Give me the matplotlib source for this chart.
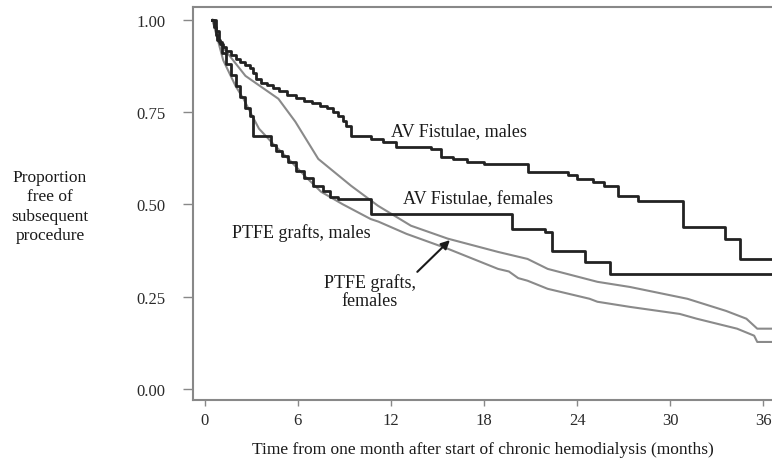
import matplotlib
matplotlib.use("Agg")
import matplotlib.pyplot as plt

plt.rcParams['font.family'] = ['Liberation Serif', 'DejaVu Serif']

# ---- data (months, proportion free of subsequent procedure) ----
av_m_t = [0.5, 0.6, 0.7, 0.8, 1.0, 1.2, 1.4, 1.7, 2.0, 2.3, 2.6, 2.9, 3.1, 3.3, 3.6, 4.0,
          4.4, 4.8, 5.3, 5.9, 6.4, 6.9, 7.4, 7.9, 8.3, 8.6, 8.9, 9.1, 9.4, 10.7, 11.5, 12.3,
          14.6, 15.2, 16.0, 16.9, 18.0, 20.8, 23.4, 24.0, 25.0, 25.7, 26.6, 27.9, 30.8,
          33.5, 34.5, 36.5]
av_m_v = [1.0, 0.98, 0.96, 0.945, 0.935, 0.925, 0.915, 0.905, 0.895, 0.885, 0.878, 0.87,
          0.855, 0.84, 0.83, 0.822, 0.815, 0.806, 0.797, 0.787, 0.78, 0.775, 0.767, 0.76,
          0.75, 0.74, 0.725, 0.713, 0.686, 0.678, 0.668, 0.656, 0.650, 0.629, 0.622, 0.615,
          0.61, 0.588, 0.58, 0.569, 0.56, 0.55, 0.523, 0.51, 0.439, 0.406, 0.352, 0.352]

av_f_t = [0.5, 0.7, 0.9, 1.1, 1.4, 1.7, 2.0, 2.3, 2.6, 2.9, 3.1, 4.3, 4.6, 5.0, 5.4, 5.9,
          6.4, 7.0, 7.6, 8.1, 8.6, 10.7, 19.8, 21.9, 22.4, 24.5, 26.1, 36.5]
av_f_v = [1.0, 0.97, 0.94, 0.91, 0.88, 0.85, 0.82, 0.79, 0.76, 0.74, 0.686, 0.66, 0.645,
          0.63, 0.615, 0.59, 0.57, 0.55, 0.535, 0.52, 0.515, 0.474, 0.434, 0.425, 0.374,
          0.344, 0.312, 0.312]

ptfe_m_t = [0.5, 1.2, 2.0, 2.5, 3.0, 3.5, 4.5, 5.4, 6.5, 7.5, 8.9, 10.7, 11.2, 13.0, 15.7,
            18.9, 19.6, 20.2, 20.8, 22.1, 24.8, 25.3, 27.4, 30.6, 31.7, 34.3, 35.4, 35.6, 36.5]
ptfe_m_v = [1.0, 0.89, 0.82, 0.786, 0.745, 0.705, 0.66, 0.623, 0.575, 0.534, 0.50, 0.46,
            0.453, 0.42, 0.379, 0.325, 0.318, 0.300, 0.293, 0.271, 0.244, 0.236, 0.222,
            0.203, 0.190, 0.163, 0.144, 0.127, 0.127]

ptfe_f_t = [0.5, 1.09, 2.63, 4.75, 5.84, 7.32, 9.44, 11.17, 13.29, 15.66, 18.9, 20.8, 22.1,
            25.3, 27.4, 31.1, 33.6, 34.9, 35.6, 36.5]
ptfe_f_v = [1.0, 0.93, 0.848, 0.786, 0.724, 0.623, 0.550, 0.496, 0.442, 0.407, 0.371,
            0.352, 0.325, 0.290, 0.276, 0.244, 0.211, 0.190, 0.163, 0.163]

x_ticks = [0, 6, 12, 18, 24, 30, 36]
y_ticks = [0.0, 0.25, 0.50, 0.75, 1.00]
y_tick_labels = ["0.00", "0.25", "0.50", "0.75", "1.00"]

fig = plt.figure(figsize=(7.72, 4.64), dpi=100)
ax = fig.add_axes([0.25, 0.136, 0.75, 0.847])

gray = '#8a8a8a'
dark = '#222222'
ax.plot(ptfe_f_t, ptfe_f_v, color=gray, lw=1.5)
ax.plot(ptfe_m_t, ptfe_m_v, color=gray, lw=1.5)
ax.plot(av_f_t, av_f_v, color=dark, lw=2.0, drawstyle='steps-post')
ax.plot(av_m_t, av_m_v, color=dark, lw=2.0, drawstyle='steps-post')

ax.set_xlim(-0.75, 36.55)
ax.set_ylim(-0.030, 1.035)
ax.set_xticks(x_ticks)
ax.set_yticks(y_ticks)
ax.set_yticklabels(y_tick_labels)

for s in ['left', 'bottom', 'top']:
    ax.spines[s].set_color('#888888')
    ax.spines[s].set_linewidth(1.5)
ax.spines['right'].set_visible(False)
ax.tick_params(axis='y', length=7, width=1, color='#888888', pad=13, labelsize=12, labelcolor='#2a2a2a')
ax.tick_params(axis='x', length=4.5, width=1, color='#888888', pad=4, labelsize=12, labelcolor='#2a2a2a')

tc = '#1a1a1a'
fs = 13
ax.text(12.0, 0.70, "AV Fistulae, males", fontsize=fs, color=tc, ha='left', va='center')
ax.text(12.8, 0.515, "AV Fistulae, females", fontsize=fs, color=tc, ha='left', va='center')
ax.text(1.75, 0.425, "PTFE grafts, males", fontsize=fs, color=tc, ha='left', va='center')
ax.text(10.65, 0.265, "PTFE grafts,\nfemales", fontsize=fs, color=tc, ha='center', va='center',
        linespacing=1.05)
ax.annotate("", xy=(15.8, 0.403), xytext=(13.7, 0.317),
            arrowprops=dict(arrowstyle='-|>', color=tc, lw=1.5, shrinkA=0, shrinkB=0,
                            mutation_scale=13))

fig.text(50 / 772, 1 - 207 / 464, "Proportion\nfree of\nsubsequent\nprocedure", fontsize=12.5,
         color=tc, ha='center', va='center', linespacing=1.3)
fig.text(483 / 772, 1 - 450 / 464,
         "Time from one month after start of chronic hemodialysis (months)",
         fontsize=12.5, color=tc, ha='center', va='center')

fig.savefig("out.png", dpi=100)
